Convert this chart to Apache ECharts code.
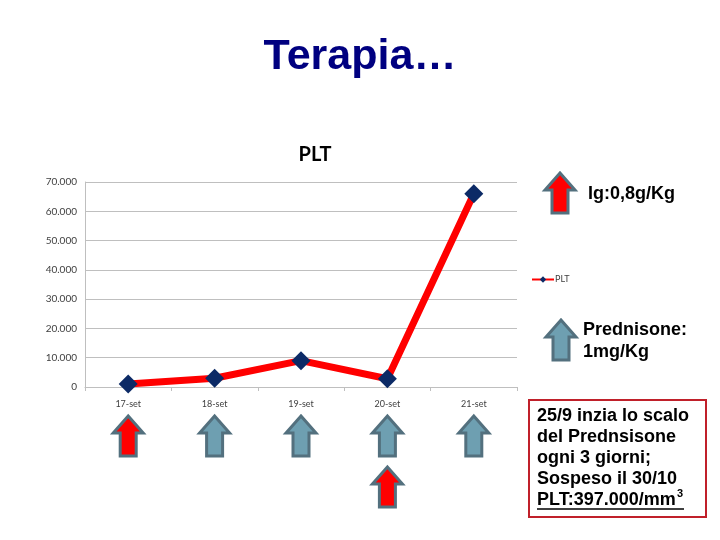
<!DOCTYPE html>
<html>
<head>
<meta charset="utf-8">
<script src="https://cdn.jsdelivr.net/npm/echarts@6/dist/echarts.min.js"></script>
<style>
  html, body { margin: 0; padding: 0; background: #fff; }
  #main { width: 720px; height: 540px; }
</style>
</head>
<body>
<div id="main"></div>
<script>
// dati del grafico
var categories = ['17-set', '18-set', '19-set', '20-set', '21-set'];
var pltValues = [1000, 3000, 9000, 2800, 66000];
var yTicks = [0, 10000, 20000, 30000, 40000, 50000, 60000, 70000];
// frecce sotto l'asse: prima riga e seconda riga
var arrowRow1 = ['ig', 'pred', 'pred', 'pred', 'pred'];
var arrowRow2 = ['', '', '', 'ig', ''];
var boxLines = ['25/9 inzia lo scalo', 'del Prednsisone', 'ogni 3 giorni;', 'Sospeso il 30/10'];

var chartDom = document.getElementById('main');
var myChart = echarts.init(chartDom);
var option;

function fmt(v) {
  return String(v).replace(/\B(?=(\d{3})+(?!\d))/g, '.');
}

function arrow(cx, ty, kind) {
  return {
    type: 'polygon',
    shape: {
      points: [
        [cx, ty], [cx + 15, ty + 17], [cx + 8, ty + 17], [cx + 8, ty + 40],
        [cx - 8, ty + 40], [cx - 8, ty + 17], [cx - 15, ty + 17]
      ]
    },
    style: {
      fill: kind === 'ig' ? '#ff0000' : '#6e9fb1',
      stroke: '#53707e',
      lineWidth: 3
    },
    z: 10
  };
}

var slideFont = 'Liberation Sans, Arial';

option = {
  backgroundColor: '#ffffff',
  animation: false,
  title: {
    text: 'PLT',
    left: 310,
    top: 140,
    textAlign: 'center',
    textStyle: { fontFamily: 'Lato', fontWeight: 'bold', fontSize: 20, color: '#000' }
  },
  legend: {
    data: ['PLT'],
    left: 526,
    top: 270,
    itemWidth: 22,
    itemHeight: 8,
    itemGap: 2,
    textStyle: { fontFamily: 'Lato', fontSize: 9, color: '#404040', padding: [0, 0, 0, -4] }
  },
  grid: { left: 85, right: 203, top: 182, bottom: 153 },
  xAxis: {
    type: 'category',
    data: categories,
    boundaryGap: true,
    axisLine: { lineStyle: { color: '#bfbfbf' } },
    axisTick: { show: true, length: 4, lineStyle: { color: '#bfbfbf' } },
    axisLabel: { fontFamily: 'Lato', fontSize: 9, color: '#404040', margin: 13 }
  },
  yAxis: {
    type: 'value',
    min: 0,
    max: 70000,
    interval: 10000,
    axisLine: { show: true, lineStyle: { color: '#bfbfbf' } },
    axisTick: { show: false },
    splitLine: { lineStyle: { color: '#bfbfbf' } },
    axisLabel: {
      fontFamily: 'Lato', fontSize: 10, color: '#404040', margin: 8,
      formatter: function (v) { return yTicks.indexOf(v) >= 0 ? fmt(v) : ''; }
    }
  },
  series: [
    {
      name: 'PLT',
      type: 'line',
      data: pltValues,
      symbol: 'diamond',
      symbolSize: 19,
      itemStyle: { color: '#0c2a66' },
      lineStyle: { color: '#ff0000', width: 7 },
      z: 3
    }
  ],
  graphic: []
};

option && myChart.setOption(option);

// annotazioni: titolo della slide, frecce e riquadro
var g = [];
g.push({
  type: 'text', left: 'center', top: 36,
  style: { text: 'Terapia…', fontFamily: slideFont, fontWeight: 'bold', fontSize: 43, fill: '#000080' }
});
g.push(arrow(560, 173, 'ig'));
g.push({
  type: 'text', x: 588, y: 194,
  style: { text: 'Ig:0,8g/Kg', fontFamily: slideFont, fontWeight: 'bold', fontSize: 18, fill: '#000', verticalAlign: 'middle' }
});
g.push(arrow(561, 320, 'pred'));
g.push({
  type: 'text', x: 583, y: 330,
  style: { text: 'Prednisone:', fontFamily: slideFont, fontWeight: 'bold', fontSize: 18, fill: '#000', verticalAlign: 'middle' }
});
g.push({
  type: 'text', x: 583, y: 352,
  style: { text: '1mg/Kg', fontFamily: slideFont, fontWeight: 'bold', fontSize: 18, fill: '#000', verticalAlign: 'middle' }
});
categories.forEach(function (c, i) {
  var px = myChart.convertToPixel({ xAxisIndex: 0 }, c);
  if (arrowRow1[i]) g.push(arrow(px, 416, arrowRow1[i]));
  if (arrowRow2[i]) g.push(arrow(px, 467, arrowRow2[i]));
});
g.push({
  type: 'rect', shape: { x: 529, y: 400, width: 177, height: 117 },
  style: { fill: '#fff', stroke: '#c0202a', lineWidth: 2 }
});
boxLines.forEach(function (t, i) {
  g.push({
    type: 'text', x: 537, y: 416 + i * 21,
    style: { text: t, fontFamily: slideFont, fontWeight: 'bold', fontSize: 18, fill: '#000', verticalAlign: 'middle' },
    z: 11
  });
});
g.push({
  type: 'text', x: 537, y: 500,
  style: { text: 'PLT:397.000/mm', fontFamily: slideFont, fontWeight: 'bold', fontSize: 18, fill: '#000', verticalAlign: 'middle' },
  z: 11
});
g.push({
  type: 'text', x: 677, y: 494,
  style: { text: '3', fontFamily: slideFont, fontWeight: 'bold', fontSize: 11, fill: '#000', verticalAlign: 'middle' },
  z: 11
});
g.push({
  type: 'line', shape: { x1: 537, y1: 509, x2: 684, y2: 509 },
  style: { stroke: '#000', lineWidth: 1.5 }, z: 11
});

myChart.setOption({ graphic: g });
</script>
</body>
</html>
